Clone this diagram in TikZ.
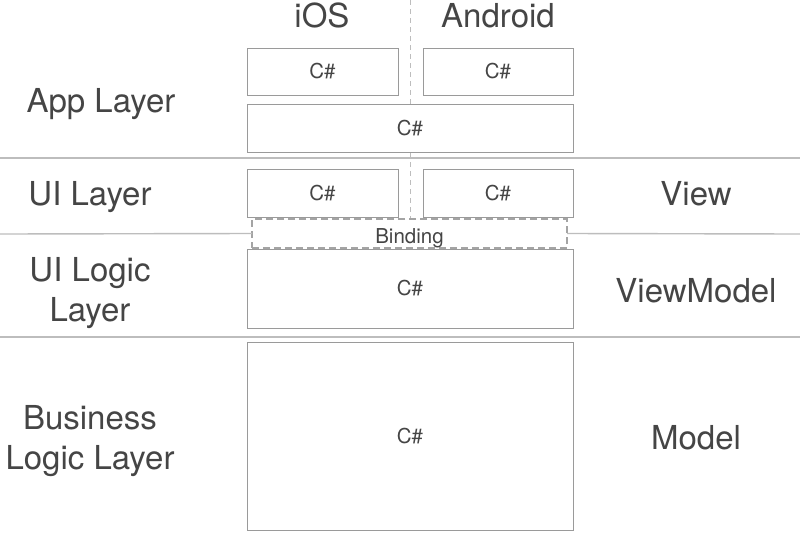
\documentclass[tikz,border=0pt]{standalone}
\usepackage{fontspec}
\setmainfont{TeX Gyre Heros}
\usetikzlibrary{shadows}
\definecolor{txt}{HTML}{454545}
\definecolor{boxline}{HTML}{9A9A9A}
\definecolor{sepline}{HTML}{BDBDBD}
\begin{document}
\begin{tikzpicture}[x=1pt,y=-1pt,
  box/.style={draw=boxline, line width=1pt, fill=white, inner sep=0pt, outer sep=0pt,
    drop shadow={shadow xshift=1.2pt, shadow yshift=-1.2pt, opacity=0.35, fill=black!60},
    font=\fontsize{20.5}{24}\selectfont, text=txt, text height=14.8pt, text depth=0pt},
  bindbox/.style={draw=boxline!90, line width=1.6pt, dash pattern=on 7pt off 4pt, fill=white,
    inner sep=0pt, outer sep=0pt},
  sep/.style={draw=sepline, line width=1.4pt},
  vsep/.style={draw=sepline, line width=1pt, dash pattern=on 5pt off 4pt},
  big/.style={font=\fontsize{33}{40}\selectfont, text=txt, align=center, inner sep=0pt, anchor=base}]
\useasboundingbox[fill=white] (0,0) rectangle (800,536);
% separators
\coordinate (s1l) at (0,158); \coordinate (s1r) at (800,158);
\coordinate (s2l) at (0,234); \coordinate (s2r) at (800,234);
\coordinate (s3l) at (0,337); \coordinate (s3r) at (800,337);
\coordinate (vt) at (410,0); \coordinate (vb) at (410,219);
\draw[sep] (s1l) -- (s1r);
\draw[sep] (s3l) -- (s3r);
\draw[vsep] (vt) -- (vb);
% boxes
\node[box, minimum width=151pt, minimum height=47pt] (iosapp) at (322.5,71.5) {C\#};
\node[box, minimum width=150pt, minimum height=47pt] (andapp) at (498,71.5) {C\#};
\node[box, minimum width=326pt, minimum height=48pt] (app) at (410,128) {C\#};
\node[box, minimum width=151pt, minimum height=48pt] (iosui) at (322.5,193) {C\#};
\node[box, minimum width=150pt, minimum height=48pt] (andui) at (498,193) {C\#};
\node[box, minimum width=326pt, minimum height=79pt] (logic) at (410,288.5) {C\#};
\node[box, minimum width=326pt, minimum height=188pt] (biz) at (410,436) {C\#};
\node[bindbox, minimum width=315pt, minimum height=29pt] (bind) at (409.5,233.5) {};
\node[font=\fontsize{20.5}{24}\selectfont, text=txt, inner sep=0pt, anchor=base] (bindtxt) at (409.5,243) {Binding};
\draw[sep] (s2l) -- (bind.west);
\draw[sep] (bind.east) -- (s2r);
% headings
\node[big] (ios) at (322,27) {iOS};
\node[big] (android) at (498,27) {Android};
\node[big] (applayer) at (101,112) {App Layer};
\node[big] (uilayer) at (90,205) {UI Layer};
\node[big] (uilogic) at (90,321) {UI Logic\\Layer};
\node[big] (bizlayer) at (90,469) {Business\\Logic Layer};
\node[big] (view) at (696,205) {View};
\node[big] (vm) at (696,302) {ViewModel};
\node[big] (model) at (696,449) {Model};
\end{tikzpicture}
\end{document}
